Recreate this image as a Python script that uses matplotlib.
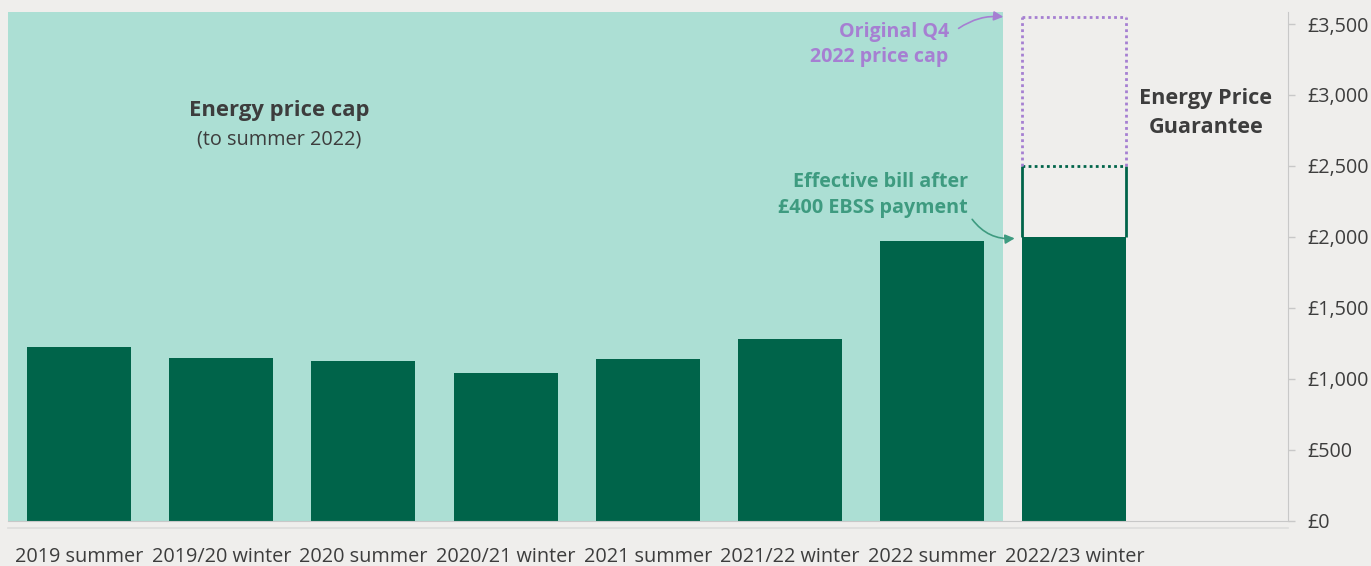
import numpy as np
import matplotlib.pyplot as plt

plt.rcParams['font.family'] = ['Open Sans', 'DejaVu Sans']

periods = ["2019 summer", "2019/20 winter", "2020 summer", "2020/21 winter",
           "2021 summer", "2021/22 winter", "2022 summer", "2022/23 winter"]
price_cap = [1220, 1148, 1126, 1042, 1138, 1277, 1971]
effective_bill = 2000
guarantee = 2500
original_q4 = 3549
yticks = [0, 500, 1000, 1500, 2000, 2500, 3000, 3500]
ytick_labels = ["£0", "£500", "£1,000", "£1,500", "£2,000", "£2,500", "£3,000", "£3,500"]

bg = "#efeeec"
teal = "#acdfd4"
green = "#00644a"
purple = "#a67fd2"
teal_text = "#3e9b80"
dark = "#3d3d3d"
grey = "#c8c8c8"

fig = plt.figure(figsize=(13.71, 5.66), dpi=100, facecolor=bg)
ax = fig.add_axes([8/1371, 45.5/566, 1279.6/1371, 508.5/566], facecolor=bg)

w = 0.732
x = np.arange(len(periods))
n_cap = len(price_cap)

ax.axvspan(-0.5, n_cap - 0.5, color=teal, zorder=0, lw=0)
ax.bar(x[:n_cap], price_cap, width=w, color=green, zorder=2)

# last period: effective bill, guarantee box, original cap (dotted)
xl = x[-1]
ax.bar(xl, effective_bill, width=w, color=green, zorder=2)
ax.vlines([xl - w/2, xl + w/2], effective_bill, guarantee, color=green, lw=2, zorder=3)
ax.hlines(guarantee, xl - w/2, xl + w/2, color=green, lw=2, ls=(0, (1, 1.2)), zorder=3)
ax.vlines([xl - w/2, xl + w/2], guarantee, original_q4, color=purple, lw=2,
          ls=(0, (1, 1.2)), zorder=3)
ax.hlines(original_q4, xl - w/2, xl + w/2, color=purple, lw=2, ls=(0, (1, 1.2)), zorder=3)

ax.set_xlim(-0.5, 8.5)
ax.set_ylim(0, 3585)

ax.set_xticks(x)
ax.set_xticklabels(periods, fontsize=14.3, color=dark)
ax.tick_params(axis='x', length=0, pad=19)

ax.yaxis.tick_right()
ax.set_yticks(yticks)
ax.set_yticklabels(ytick_labels, fontsize=14.2, color=dark)
ax.tick_params(axis='y', length=5, width=1, color=grey, pad=9)

for s in ['top', 'left']:
    ax.spines[s].set_visible(False)
ax.spines['right'].set_color(grey)
ax.spines['bottom'].set_color(grey)
ax.axhline(-56, color="#dcdcdc", lw=1.2, clip_on=False)

# text annotations
ax.text(1.41, 2894, "Energy price cap", ha='center', va='center', fontsize=15.8,
        fontweight='bold', color=dark)
ax.text(1.41, 2689, "(to summer 2022)", ha='center', va='center', fontsize=14.3,
        color=dark)
ax.text(7.925, 2872, "Energy Price\nGuarantee", ha='center', va='center', fontsize=15.6,
        fontweight='bold', color=dark, linespacing=1.5)
ax.text(6.116, 3355, "Original Q4\n2022 price cap", ha='right', va='center',
        fontsize=14.1, fontweight='bold', color=purple, linespacing=1.35)
ax.text(6.25, 2295, "Effective bill after\n£400 EBSS payment", ha='right', va='center',
        fontsize=14.2, fontweight='bold', color=teal_text, linespacing=1.35)

ax.annotate("", xy=(6.52, 3549), xytext=(6.17, 3458),
            arrowprops=dict(arrowstyle='-|>', color=purple, lw=1.2,
                            connectionstyle='arc3,rad=-0.2', mutation_scale=14))
ax.annotate("", xy=(6.6, 1991), xytext=(6.27, 2139),
            arrowprops=dict(arrowstyle='-|>', color=teal_text, lw=1.2,
                            connectionstyle='arc3,rad=0.3', mutation_scale=14))

fig.savefig("out.png", dpi=100, facecolor=bg)
